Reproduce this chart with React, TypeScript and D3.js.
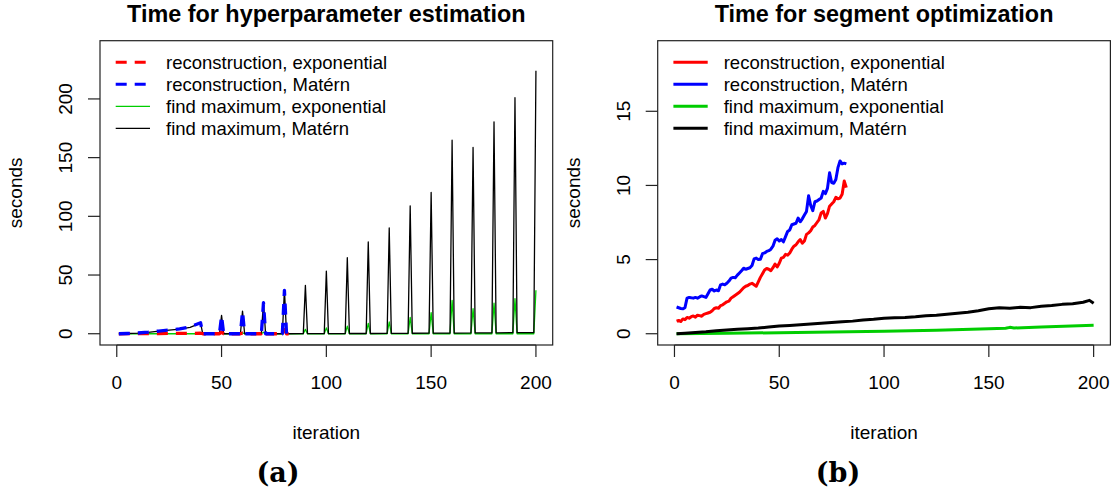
import React from "react";
import * as d3 from "d3";

// ---------- Panel (a): Time for hyperparameter estimation ----------
const aEarlyIter = [1, 5, 10, 15, 20, 25, 30, 35, 40];
const aBlackEarly = [0, 0.2, 0.6, 1.2, 2.2, 3.0, 3.9, 5.5, 9.0];
const aBlueEarly = [0, 0.2, 0.6, 1.3, 2.3, 3.1, 4.1, 5.9, 9.3];
const aRedEarly = [0, 0.05, 0.1, 0.15, 0.2, 0.25, 0.3, 0.35, 0.4];
const aGreenEarly = [0, 0, 0, 0, 0, 0, 0, 0, 0];

const aSpikeIter = [50, 60, 70, 80, 90, 100, 110, 120, 130, 140, 150, 160, 170, 180, 190, 200];
const aBlackSpike = [15.6, 19.3, 27, 37.5, 41.2, 53.4, 64.8, 78.2, 90.1, 108.9, 120.3, 164.9, 158.7, 180.5, 201, 224];
const aBlackBase = [0, 0, 0, 0, 0.1, 0.1, 0.2, 0.2, 0.3, 0.4, 0.5, 0.6, 0.7, 0.8, 0.9, 1.0];
const aGreenSpike = [0.5, 0.8, 1.2, 1.6, 3.7, 5, 6.5, 8.8, 10, 14, 18, 28.4, 21.3, 26, 29.8, 37];
const aGreenBase = [0, 0, 0, 0, 0, 0, 0, 0, 0, 0, 0, 0, 0, 0, 0, 0];
const aBlueSpike = [15.2, 19.0, 26.5, 37.0];
const aRedSpike = [1.4, 0.5, 2.8, 3.4];
const aReconLast = 82;

const aYTicks = [0, 50, 100, 150, 200];
const xTicks = [0, 50, 100, 150, 200];

// ---------- Panel (b): Time for segment optimization ----------
const bBlue = [
  1.80, 1.75, 1.70, 1.68, 1.75, 2.40, 2.45, 2.42, 2.40, 2.45,
  2.40, 2.48, 2.55, 2.50, 2.45, 2.70, 2.95, 3.00, 2.88, 2.95,
  2.90, 3.30, 3.35, 3.30, 3.40, 3.55, 3.75, 3.80, 3.78, 3.95,
  4.10, 4.25, 4.42, 4.35, 4.40, 4.45, 4.60, 5.05, 5.10, 5.00,
  5.02, 5.40, 5.45, 5.55, 5.60, 5.70, 5.90, 6.30, 6.40, 6.25,
  6.35, 6.20, 6.55, 6.90, 7.00, 7.35, 7.40, 7.45, 7.80, 7.55,
  7.75, 8.00, 8.25, 9.30, 8.65, 8.30, 8.90, 8.95, 9.05, 9.15,
  9.60, 9.45, 9.80, 10.85, 10.20, 10.15, 10.40, 11.20, 11.65, 11.45,
  11.50, 11.45,
];
const bRed = [
  0.85, 0.90, 0.82, 1.00, 0.95, 1.10, 1.05, 1.15, 1.20, 1.12,
  1.25, 1.22, 1.18, 1.30, 1.35, 1.40, 1.45, 1.55, 1.70, 1.75,
  1.72, 1.90, 1.95, 2.05, 2.15, 2.20, 2.40, 2.50, 2.60, 2.70,
  2.80, 2.95, 3.10, 3.20, 3.25, 3.35, 3.40, 3.30, 3.20, 3.50,
  3.80, 4.05, 4.30, 4.40, 4.35, 4.25, 4.45, 4.70, 4.50, 4.75,
  5.10, 5.15, 5.35, 5.30, 5.45, 5.70, 5.90, 6.00, 6.20, 6.35,
  6.10, 6.25, 6.70, 6.80, 6.95, 7.20, 7.30, 7.50, 7.70, 8.15,
  8.25, 7.80, 8.10, 8.60, 8.75, 8.90, 9.20, 9.10, 9.15, 9.40,
  10.30, 9.85,
];
const bBlackIter = [1, 5, 10, 15, 20, 25, 30, 35, 40, 45, 50, 55, 60, 65, 70, 75, 80, 85, 90, 95, 100,
  105, 110, 115, 120, 125, 130, 135, 140, 145, 150, 155, 160, 165, 170, 175, 180, 185, 190, 195, 198, 200];
const bBlack = [0.00, 0.03, 0.08, 0.13, 0.20, 0.25, 0.30, 0.34, 0.38, 0.45, 0.52, 0.56, 0.60, 0.65, 0.70, 0.75,
  0.80, 0.85, 0.93, 0.98, 1.05, 1.08, 1.10, 1.15, 1.22, 1.25, 1.32, 1.38, 1.45, 1.55, 1.68, 1.75, 1.72,
  1.78, 1.76, 1.85, 1.90, 1.98, 2.02, 2.12, 2.25, 2.05];
const bGreenIter = [1, 25, 50, 75, 100, 125, 150, 158, 160, 162, 175, 200];
const bGreen = [0, 0.03, 0.07, 0.11, 0.16, 0.24, 0.33, 0.37, 0.43, 0.39, 0.45, 0.58];
const bYTicks = [0, 5, 10, 15];

const legendLabels = [
  "reconstruction, exponential",
  "reconstruction, Matérn",
  "find maximum, exponential",
  "find maximum, Matérn",
];

const RED = "#FF0000";
const BLUE = "#0000FF";
const GREEN = "#00CD00";
const BLACK = "#000000";
const FONT = "'Liberation Sans', Arial, Helvetica, sans-serif";

type Pt = [number, number];

function buildA(
  early: number[],
  spikeVals: number[],
  baseVals: number[],
  lastIter: number
): Pt[] {
  const pts: Pt[] = aEarlyIter.map((it, i) => [it, early[i]] as Pt);
  pts.push([41, 0]);
  spikeVals.forEach((v, k) => {
    const s = aSpikeIter[k];
    const b = baseVals[k];
    pts.push([s - 1, b]);
    pts.push([s, v]);
    if (s + 1 <= lastIter) pts.push([s + 1, b]);
  });
  if (pts[pts.length - 1][0] < lastIter) pts.push([lastIter, 0]);
  return pts;
}

interface PanelProps {
  x0: number;
  title: string;
  yDomain: [number, number];
  yTicks: number[];
  series: { pts: Pt[]; color: string; width: number; dash?: string }[];
  legend: { color: string; width: number; dash?: string }[];
  caption: string;
  captionX: number;
}

const BOX_W = 452.7;
const BOX_TOP = 40.7;
const BOX_BOTTOM = 345;

function Panel({ x0, title, yDomain, yTicks, series, legend, caption, captionX }: PanelProps) {
  const x = d3.scaleLinear().domain([-8, 208]).range([x0, x0 + BOX_W]);
  const y = d3.scaleLinear().domain(yDomain).range([BOX_BOTTOM, BOX_TOP]);
  const line = d3
    .line<Pt>()
    .x((d) => x(d[0]))
    .y((d) => y(d[1]));
  const cx = x0 + BOX_W / 2;
  const clipId = `clip-${Math.round(x0)}`;
  return (
    <g>
      <defs>
        <clipPath id={clipId}>
          <rect x={x0} y={BOX_TOP} width={BOX_W} height={BOX_BOTTOM - BOX_TOP} />
        </clipPath>
      </defs>
      <text x={cx} y={22} textAnchor="middle" fontFamily={FONT} fontWeight="bold" fontSize={23.4}>
        {title}
      </text>
      <g clipPath={`url(#${clipId})`}>
        {series.map((s, i) => (
          <path
            key={i}
            d={line(s.pts) || ""}
            fill="none"
            stroke={s.color}
            strokeWidth={s.width}
            strokeDasharray={s.dash}
            strokeLinejoin="round"
          />
        ))}
      </g>
      <rect x={x0} y={BOX_TOP} width={BOX_W} height={BOX_BOTTOM - BOX_TOP} fill="none" stroke="#222" strokeWidth={1.2} />
      {/* x axis */}
      <line x1={x(xTicks[0])} x2={x(xTicks[xTicks.length - 1])} y1={BOX_BOTTOM} y2={BOX_BOTTOM} stroke="#222" />
      {xTicks.map((t) => (
        <g key={t}>
          <line x1={x(t)} x2={x(t)} y1={BOX_BOTTOM} y2={BOX_BOTTOM + 12} stroke="#222" strokeWidth={1.2} />
          <text x={x(t)} y={389} textAnchor="middle" fontFamily={FONT} fontSize={19}>
            {t}
          </text>
        </g>
      ))}
      <text x={cx} y={439} textAnchor="middle" fontFamily={FONT} fontSize={19}>
        iteration
      </text>
      {/* y axis */}
      {yTicks.map((t) => (
        <g key={t}>
          <line x1={x0 - 12} x2={x0} y1={y(t)} y2={y(t)} stroke="#222" strokeWidth={1.2} />
          <text
            transform={`translate(${x0 - 28},${y(t)}) rotate(-90)`}
            textAnchor="middle"
            fontFamily={FONT}
            fontSize={19}
          >
            {t}
          </text>
        </g>
      ))}
      <text
        transform={`translate(${x0 - 78},${(BOX_TOP + BOX_BOTTOM) / 2}) rotate(-90)`}
        textAnchor="middle"
        fontFamily={FONT}
        fontSize={19}
      >
        seconds
      </text>
      {/* legend */}
      {legend.map((l, i) => {
        const ly = 62.3 + i * 22;
        return (
          <g key={i}>
            <line
              x1={x0 + 15.7}
              x2={x0 + 50}
              y1={ly}
              y2={ly}
              stroke={l.color}
              strokeWidth={l.width}
              strokeDasharray={l.dash}
            />
            <text x={x0 + 66} y={ly + 6.5} fontFamily={FONT} fontSize={18.5}>
              {legendLabels[i]}
            </text>
          </g>
        );
      })}
      <text x={captionX} y={482} textAnchor="middle" fontFamily="'DejaVu Serif', serif" fontWeight="bold" fontSize={27}>
        {caption}
      </text>
    </g>
  );
}

export default function App() {
  const aBlack = buildA(aBlackEarly, aBlackSpike, aBlackBase, 200);
  const aGreen = buildA(aGreenEarly, aGreenSpike, aGreenBase, 200);
  const aBlue = buildA(aBlueEarly, aBlueSpike, [0, 0, 0, 0], aReconLast);
  const aRed = buildA(aRedEarly, aRedSpike, [0, 0, 0, 0], aReconLast);

  const bRedPts: Pt[] = bRed.map((v, i) => [i + 1, v]);
  const bBluePts: Pt[] = bBlue.map((v, i) => [i + 1, v]);
  const bBlackPts: Pt[] = bBlack.map((v, i) => [bBlackIter[i], v]);
  const bGreenPts: Pt[] = bGreen.map((v, i) => [bGreenIter[i], v]);

  const DASH = "11,8";
  return (
    <svg
      width={1117}
      height={497}
      style={{ position: "absolute", left: 0, top: 0, background: "#fff" }}
    >
      <rect width={1117} height={497} fill="#fff" />
      <Panel
        x0={100}
        title="Time for hyperparameter estimation"
        yDomain={[-9.6, 249.6]}
        yTicks={aYTicks}
        series={[
          { pts: aGreen, color: GREEN, width: 1.3 },
          { pts: aBlack, color: BLACK, width: 1.3 },
          { pts: aRed, color: RED, width: 3.3, dash: DASH },
          { pts: aBlue, color: BLUE, width: 3.3, dash: DASH },
        ]}
        legend={[
          { color: RED, width: 3, dash: DASH },
          { color: BLUE, width: 3, dash: DASH },
          { color: GREEN, width: 1.3 },
          { color: BLACK, width: 1.3 },
        ]}
        caption="(a)"
        captionX={278}
      />
      <Panel
        x0={657.7}
        title="Time for segment optimization"
        yDomain={[-0.76, 19.76]}
        yTicks={bYTicks}
        series={[
          { pts: bGreenPts, color: GREEN, width: 3 },
          { pts: bBlackPts, color: BLACK, width: 3 },
          { pts: bRedPts, color: RED, width: 3 },
          { pts: bBluePts, color: BLUE, width: 3 },
        ]}
        legend={[
          { color: RED, width: 3 },
          { color: BLUE, width: 3 },
          { color: GREEN, width: 3 },
          { color: BLACK, width: 3 },
        ]}
        caption="(b)"
        captionX={838}
      />
    </svg>
  );
}
